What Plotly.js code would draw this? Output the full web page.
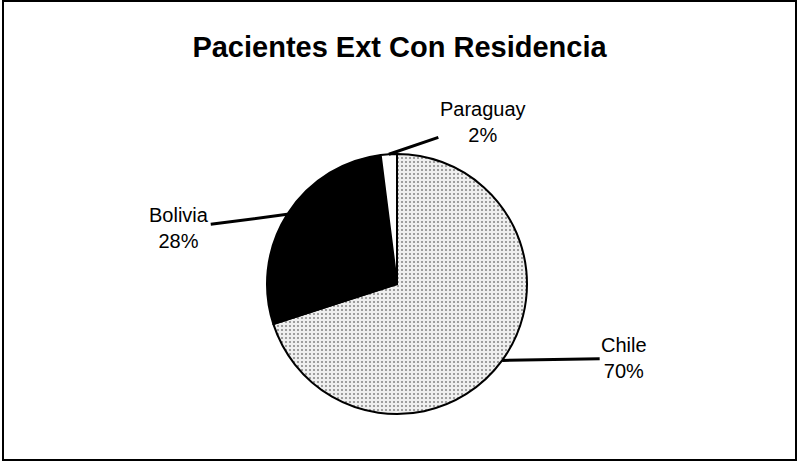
<!DOCTYPE html>
<html>
<head>
<meta charset="utf-8">
<script src="https://cdn.plot.ly/plotly-3.0.1.min.js"></script>
<style>
  html, body { margin: 0; padding: 0; background: #fff; }
  #gd { width: 799px; height: 468px; }
</style>
</head>
<body>
<div id="gd"></div>
<script>
// data
var countries = ['Chile', 'Bolivia', 'Paraguay'];
var shares = [70, 28, 2];

var W = 799, H = 468;
var cx = 397, cy = 284, r = 130;   // pie centre / radius in px
// where each label's text sits relative to the point its leader touches (px)
var labelOffset = [[122, -2], [-108, 14], [94, -32]];

var total = shares.reduce(function (a, b) { return a + b; }, 0);
var annotations = [];
var cum = 0;
for (var i = 0; i < shares.length; i++) {
    var mid = (cum + shares[i] / 2) / total * 2 * Math.PI;
    cum += shares[i];
    var px = cx + r * Math.sin(mid);
    var py = cy - r * Math.cos(mid);
    annotations.push({
        xref: 'paper', yref: 'paper',
        x: px / W, y: 1 - py / H,
        ax: labelOffset[i][0], ay: labelOffset[i][1],
        text: countries[i] + '<br>' + Math.round(shares[i] / total * 100) + '%',
        showarrow: true, arrowhead: 0, arrowwidth: 3, arrowcolor: '#000',
        standoff: 0, startstandoff: 0,
        font: {family: 'Liberation Sans, Arial, sans-serif', size: 20, color: '#000'},
        align: 'center'
    });
}

var trace = {
    type: 'pie',
    labels: countries,
    values: shares,
    sort: false,
    direction: 'clockwise',
    rotation: 0,
    textinfo: 'none',
    hoverinfo: 'label+percent',
    marker: {
        colors: ['#dcdcdc', '#000000', '#ffffff'],
        line: {color: '#000', width: 2},
        pattern: {
            shape: ['.', '', ''],
            fgcolor: ['#8a8a8a', '#000', '#fff'],
            bgcolor: ['#efefef', '#000', '#fff'],
            size: 4,
            solidity: 0.22
        }
    },
    domain: {
        x: [(cx - r) / W, (cx + r) / W],
        y: [1 - (cy + r) / H, 1 - (cy - r) / H]
    }
};

var layout = {
    width: W,
    height: H,
    margin: {l: 0, r: 0, t: 0, b: 0},
    paper_bgcolor: '#fff',
    showlegend: false,
    title: {
        text: '<b>Pacientes Ext Con Residencia</b>',
        font: {family: 'Liberation Sans, Arial, sans-serif', size: 29, color: '#000'},
        x: 0.5, xanchor: 'center',
        y: 1 - 47 / H, yanchor: 'middle', yref: 'paper'
    },
    annotations: annotations,
    shapes: [{
        type: 'rect', xref: 'paper', yref: 'paper',
        x0: 3 / W, x1: 796 / W, y0: 1 - 460 / H, y1: 1 - 1 / H,
        line: {color: '#000', width: 2}
    }]
};

Plotly.newPlot('gd', [trace], layout, {displayModeBar: false, staticPlot: true});
</script>
</body>
</html>
